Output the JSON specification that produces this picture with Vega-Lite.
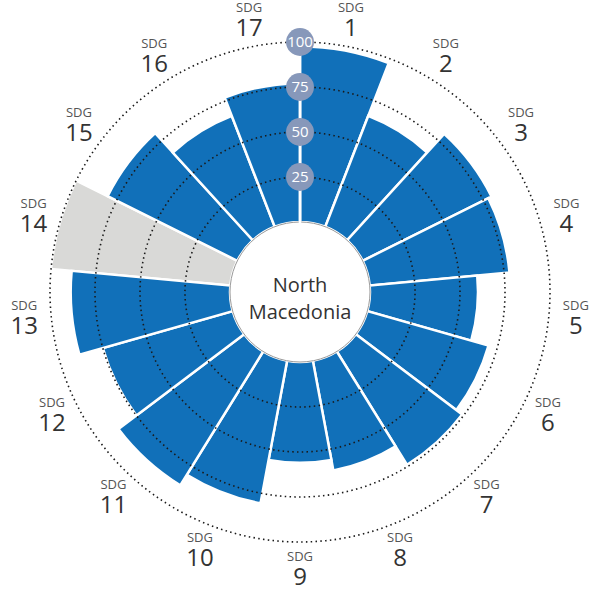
{
  "$schema": "https://vega.github.io/schema/vega-lite/v6.json",
  "width": 596,
  "height": 584,
  "autosize": "none",
  "padding": {"left": 2, "top": 0, "right": 0, "bottom": 5},
  "background": "white",
  "config": {"view": {"stroke": null}, "text": {"font": "Open Sans"}},
  "datasets": {
    "sdg": [
      {"sdg": 1, "score": 97.5, "status": "Data"},
      {"sdg": 2, "score": 66, "status": "Data"},
      {"sdg": 3, "score": 80, "status": "Data"},
      {"sdg": 4, "score": 78, "status": "Data"},
      {"sdg": 5, "score": 60, "status": "Data"},
      {"sdg": 6, "score": 70, "status": "Data"},
      {"sdg": 7, "score": 74, "status": "Data"},
      {"sdg": 8, "score": 62, "status": "Data"},
      {"sdg": 9, "score": 56, "status": "Data"},
      {"sdg": 10, "score": 80.5, "status": "Data"},
      {"sdg": 11, "score": 87.5, "status": "Data"},
      {"sdg": 12, "score": 75, "status": "Data"},
      {"sdg": 13, "score": 88.5, "status": "Data"},
      {"sdg": 14, "score": null, "status": "No data"},
      {"sdg": 15, "score": 80.5, "status": "Data"},
      {"sdg": 16, "score": 66, "status": "Data"},
      {"sdg": 17, "score": 77, "status": "Data"}
    ],
    "grid": [{"g": 25}, {"g": 50}, {"g": 75}, {"g": 100}],
    "country": [{"country": "North Macedonia"}]
  },
  "layer": [
    {
      "data": {"name": "sdg"},
      "mark": {"type": "arc", "innerRadius": 70, "fill": "#d9d9d7", "stroke": "white", "strokeWidth": 2.5},
      "encoding": {
        "theta": {"aggregate": "count", "type": "quantitative", "stack": true},
        "order": {"field": "sdg", "type": "quantitative", "sort": "ascending"},
        "detail": {"field": "status"},
        "radius": {"datum": 100, "type": "quantitative", "stack": null, "scale": {"type": "linear", "domain": [0, 100], "range": [70, 250], "zero": false, "nice": false}},
        "fillOpacity": {"condition": {"test": "datum.status === 'No data'", "value": 1}, "value": 0},
        "strokeOpacity": {"condition": {"test": "datum.status === 'No data'", "value": 1}, "value": 0}
      }
    },
    {
      "data": {"name": "sdg"},
      "transform": [
        {"aggregate": [{"op": "count", "as": "n"}], "groupby": ["sdg", "score"]},
        {"stack": "n", "groupby": [], "sort": [{"field": "sdg", "order": "ascending"}], "as": ["t0", "t1"]}
      ],
      "mark": {"type": "arc", "innerRadius": 70, "fill": "#1170b9", "stroke": "white", "strokeWidth": 2.5},
      "encoding": {
        "theta": {"field": "t0", "type": "quantitative", "stack": null},
        "theta2": {"field": "t1"},
        "radius": {"field": "score", "type": "quantitative", "stack": null, "scale": {"type": "linear", "domain": [0, 100], "range": [70, 250], "zero": false, "nice": false}}
      }
    },
    {
      "data": {"name": "grid"},
      "mark": {"type": "arc", "theta": 0, "theta2": 6.2832, "innerRadius": 0, "fillOpacity": 0, "stroke": "#1a1a1a", "strokeWidth": 1.6, "strokeDash": [1.5, 3.3]},
      "encoding": {
        "radius": {"field": "g", "type": "quantitative", "stack": null, "scale": {"type": "linear", "domain": [0, 100], "range": [70, 250], "zero": false, "nice": false}}
      }
    },
    {
      "data": {"name": "country"},
      "mark": {"type": "arc", "theta": 0, "theta2": 6.2832, "innerRadius": 0, "fill": "white", "stroke": "#9a9a9a", "strokeWidth": 1},
      "encoding": {
        "radius": {"datum": 0, "type": "quantitative", "stack": null, "scale": {"type": "linear", "domain": [0, 100], "range": [70, 250], "zero": false, "nice": false}}
      }
    },
    {
      "data": {"name": "country"},
      "mark": {"type": "rule", "color": "white", "strokeWidth": 2.5},
      "encoding": {
        "x": {"datum": 0, "type": "quantitative", "scale": {"domain": [-1, 1], "nice": false, "zero": false}, "axis": null},
        "y": {"datum": -1, "type": "quantitative", "scale": {"domain": [-201.111, 123.333], "nice": false, "zero": false}, "axis": null},
        "y2": {"datum": 100}
      }
    },
    {
      "data": {"name": "grid"},
      "mark": {"type": "point", "filled": true, "size": 780, "color": "#8798ba", "opacity": 1, "strokeWidth": 0},
      "encoding": {
        "x": {"datum": 0, "type": "quantitative", "scale": {"domain": [-1, 1], "nice": false, "zero": false}, "axis": null},
        "y": {"field": "g", "type": "quantitative", "scale": {"domain": [-201.111, 123.333], "nice": false, "zero": false}, "axis": null}
      }
    },
    {
      "data": {"name": "grid"},
      "mark": {"type": "text", "color": "white", "fontSize": 15, "align": "center", "baseline": "middle"},
      "encoding": {
        "x": {"datum": 0, "type": "quantitative", "scale": {"domain": [-1, 1], "nice": false, "zero": false}, "axis": null},
        "y": {"field": "g", "type": "quantitative", "scale": {"domain": [-201.111, 123.333], "nice": false, "zero": false}, "axis": null},
        "text": {"field": "g", "type": "quantitative"}
      }
    },
    {
      "data": {"name": "country"},
      "mark": {"type": "text", "color": "#333333", "fontSize": 20, "align": "center", "baseline": "alphabetic", "lineBreak": " ", "lineHeight": 27},
      "encoding": {
        "text": {"field": "country", "type": "nominal"}
      }
    },
    {
      "data": {"name": "sdg"},
      "mark": {"type": "text", "text": "SDG", "color": "#555555", "fontSize": 13, "align": "center", "baseline": "middle", "dy": -12},
      "encoding": {
        "theta": {"aggregate": "count", "type": "quantitative", "stack": true},
        "order": {"field": "sdg", "type": "quantitative", "sort": "ascending"},
        "detail": {"field": "sdg", "type": "quantitative"},
        "radius": {"datum": 115, "type": "quantitative", "stack": null, "scale": {"type": "linear", "domain": [0, 100], "range": [70, 250], "zero": false, "nice": false}}
      }
    },
    {
      "data": {"name": "sdg"},
      "mark": {"type": "text", "color": "#333333", "fontSize": 24, "align": "center", "baseline": "middle", "dy": 9},
      "encoding": {
        "theta": {"aggregate": "count", "type": "quantitative", "stack": true},
        "order": {"field": "sdg", "type": "quantitative", "sort": "ascending"},
        "text": {"field": "sdg", "type": "quantitative"},
        "radius": {"datum": 115, "type": "quantitative", "stack": null, "scale": {"type": "linear", "domain": [0, 100], "range": [70, 250], "zero": false, "nice": false}}
      }
    }
  ]
}
